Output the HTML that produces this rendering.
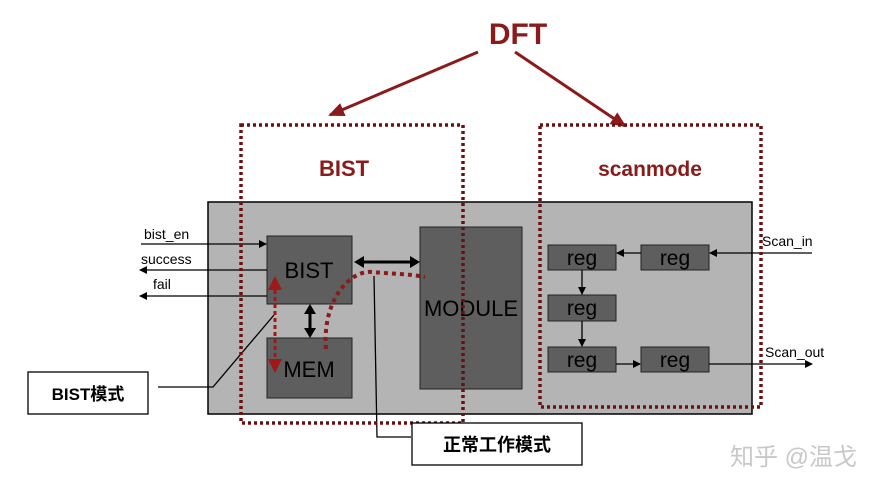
<!DOCTYPE html>
<html><head><meta charset="utf-8"><style>
body{margin:0;width:895px;height:492px;background:#fff;overflow:hidden}
svg{display:block}
text{font-family:"Liberation Sans","Noto Sans CJK SC",sans-serif}
</style></head><body>
<svg width="895" height="492" viewBox="0 0 895 492">
<defs>
<marker id="a" markerWidth="8" markerHeight="8" refX="7" refY="4" orient="auto" markerUnits="userSpaceOnUse"><path d="M0,0 L8,4 L0,8z" fill="#000"/></marker>
<marker id="r" markerWidth="16" markerHeight="14" refX="14" refY="7" orient="auto" markerUnits="userSpaceOnUse"><path d="M0,0 L16,7 L0,14z" fill="#8b1a1a"/></marker>
</defs>
<text x="518" y="44" font-size="30" font-weight="bold" fill="#8b1a1a" text-anchor="middle">DFT</text>
<line x1="478" y1="52" x2="330" y2="115" stroke="#8b1a1a" stroke-width="3" marker-end="url(#r)"/>
<line x1="515" y1="52" x2="625" y2="126" stroke="#8b1a1a" stroke-width="3" marker-end="url(#r)"/>
<rect x="208" y="202" width="544" height="212" fill="#b4b4b4" stroke="#000" stroke-width="1.5"/>
<text x="344" y="176" font-size="22" font-weight="bold" fill="#8b1a1a" text-anchor="middle">BIST</text>
<text x="650" y="176" font-size="21" font-weight="bold" fill="#8b1a1a" text-anchor="middle">scanmode</text>
<rect x="267" y="236" width="85" height="68" fill="#5e5e5e" stroke="#222"/>
<text x="309" y="278" font-size="22" text-anchor="middle">BIST</text>
<rect x="267" y="338" width="85" height="60" fill="#5e5e5e" stroke="#222"/>
<text x="309" y="377" font-size="22" text-anchor="middle">MEM</text>
<rect x="420" y="227" width="102" height="162" fill="#5e5e5e" stroke="#222"/>
<text x="471" y="316" font-size="22" text-anchor="middle">MODULE</text>
<g fill="#5e5e5e" stroke="#222">
<rect x="548" y="245" width="68" height="25"/><rect x="641" y="245" width="68" height="25"/>
<rect x="548" y="295" width="68" height="26"/><rect x="548" y="347" width="68" height="25"/><rect x="641" y="347" width="68" height="25"/>
</g>
<g font-size="21" text-anchor="middle"><text x="582" y="265">reg</text><text x="675" y="265">reg</text><text x="582" y="315">reg</text><text x="582" y="367">reg</text><text x="675" y="367">reg</text></g>
<g stroke="#000" stroke-width="1.3" fill="none">
<line x1="141" y1="244" x2="266" y2="244" marker-end="url(#a)"/>
<line x1="267" y1="270" x2="140" y2="270" marker-end="url(#a)"/>
<line x1="267" y1="296" x2="140" y2="296" marker-end="url(#a)"/>
<line x1="641" y1="253" x2="617" y2="253" marker-end="url(#a)"/>
<line x1="812" y1="253" x2="710" y2="253" marker-end="url(#a)"/>
<line x1="582" y1="270" x2="582" y2="294" marker-end="url(#a)"/>
<line x1="582" y1="321" x2="582" y2="346" marker-end="url(#a)"/>
<line x1="616" y1="364" x2="640" y2="364" marker-end="url(#a)"/>
<line x1="709" y1="364" x2="812" y2="364" marker-end="url(#a)"/>
<polyline points="158,387 213,387 274,315"/>
<polyline points="374,276 377,437 411,437"/>
</g>
<g stroke="#000" stroke-width="3">
<line x1="362" y1="262" x2="410" y2="262"/><line x1="310" y1="312" x2="310" y2="330"/></g>
<path d="M354,262 l10,-6 v12z M420,262 l-10,-6 v12z M310,304 l-6,10 h12z M310,338 l-6,-10 h12z" fill="#000"/>
<g font-size="14"><text x="144" y="239">bist_en</text><text x="141" y="264">success</text><text x="153" y="289">fail</text>
<text x="762" y="246">Scan_in</text><text x="765" y="357">Scan_out</text></g>
<g fill="none" stroke="#6b1010" stroke-width="3.5" stroke-dasharray="3,3">
<rect x="241" y="125" width="222" height="298"/>
<rect x="540" y="125" width="221" height="282"/>
</g>
<path d="M326,349 C322,300 350,270 372,272 C395,274 410,274 425,277" fill="none" stroke="#8b1a1a" stroke-width="4" stroke-dasharray="4,4"/>
<line x1="275" y1="290" x2="275" y2="360" stroke="#a01818" stroke-width="3" stroke-dasharray="4,3"/>
<path d="M275,276 l-7,14 h14z M275,373 l-7,-14 h14z" fill="#a01818"/>
<rect x="28" y="372" width="120" height="42" fill="#fff" stroke="#000" stroke-width="1.3"/>
<text x="88" y="400" font-size="17" font-weight="bold" text-anchor="middle">BIST模式</text>
<rect x="412" y="423" width="170" height="42" fill="#fff" stroke="#000" stroke-width="1.3"/>
<text x="497" y="451" font-size="18" font-weight="bold" text-anchor="middle">正常工作模式</text>
<text x="730" y="465" font-size="24" fill="#c8c8c8">知乎 @温戈</text>
</svg>
</body></html>
